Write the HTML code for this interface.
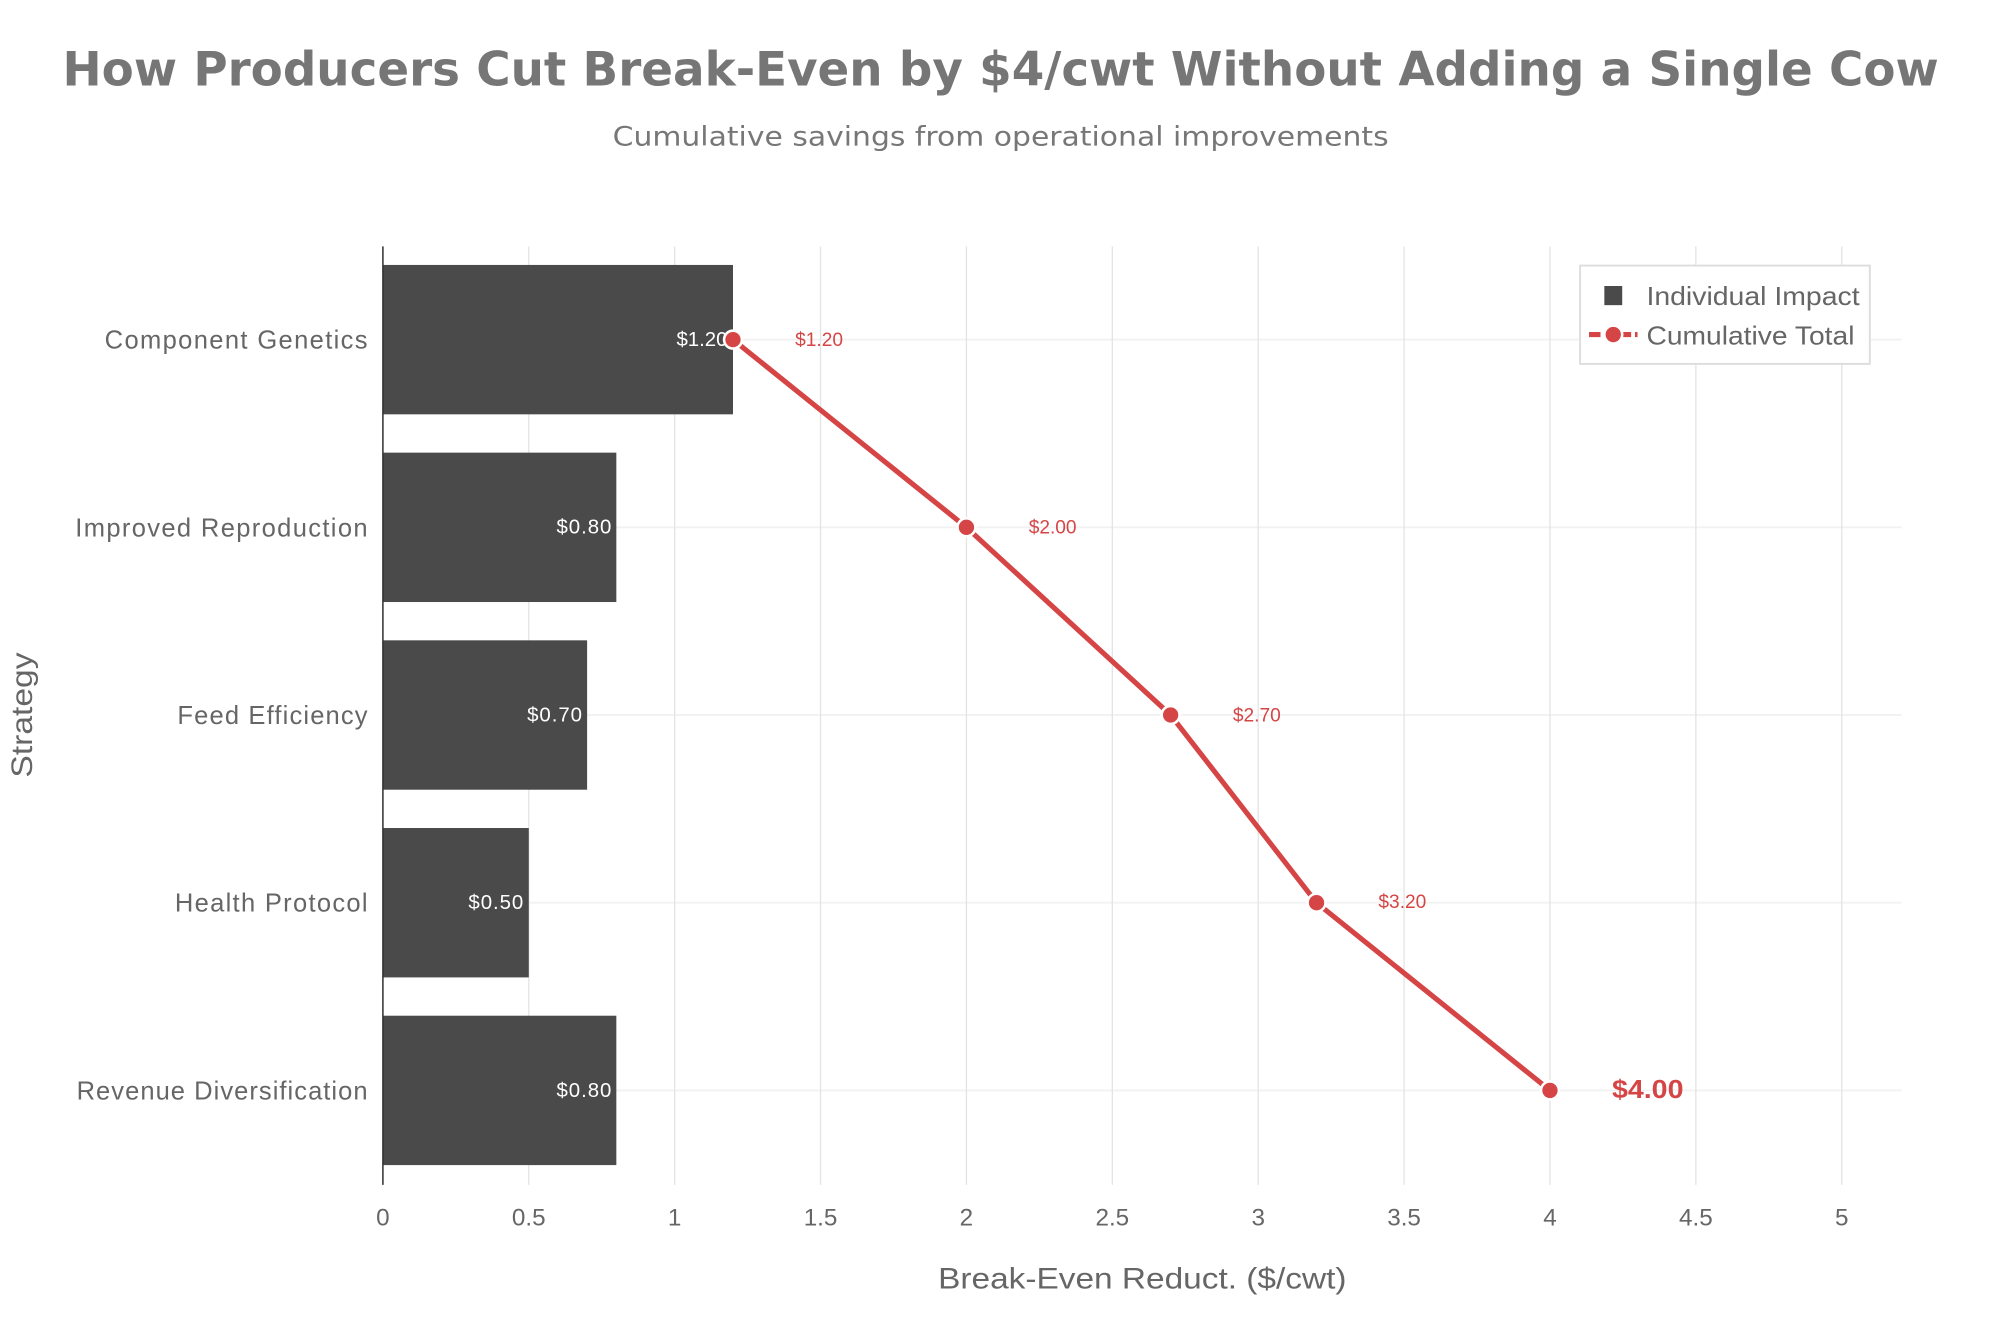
<!DOCTYPE html>
<html><head><meta charset="utf-8"><style>html,body{margin:0;padding:0;background:#fff}svg{display:block}</style></head>
<body>
<svg width="2000" height="1333" viewBox="0 0 1567 1044" preserveAspectRatio="none" xmlns="http://www.w3.org/2000/svg" font-family="Liberation Sans, DejaVu Sans, sans-serif">
<rect width="1567" height="1044" fill="#fff"/>
<text x="784" y="67" text-anchor="middle" font-size="37" font-weight="bold" fill="#767676" font-family="DejaVu Sans, sans-serif" textLength="1470" lengthAdjust="spacingAndGlyphs">How Producers Cut Break-Even by $4/cwt Without Adding a Single Cow</text>
<text x="784" y="114" text-anchor="middle" font-size="21" fill="#777" font-family="DejaVu Sans, sans-serif" textLength="608" lengthAdjust="spacingAndGlyphs">Cumulative savings from operational improvements</text>
<g stroke="#f2f2f2" stroke-width="1.5">
<line x1="300" x2="1490" y1="266" y2="266"/><line x1="300" x2="1490" y1="413" y2="413"/><line x1="300" x2="1490" y1="560" y2="560"/><line x1="300" x2="1490" y1="707" y2="707"/><line x1="300" x2="1490" y1="854" y2="854"/>
</g>
<g stroke="#e3e3e3" stroke-width="1">
<line x1="414.3" x2="414.3" y1="193" y2="928"/><line x1="528.6" x2="528.6" y1="193" y2="928"/><line x1="642.9" x2="642.9" y1="193" y2="928"/><line x1="757.2" x2="757.2" y1="193" y2="928"/><line x1="871.5" x2="871.5" y1="193" y2="928"/><line x1="985.8" x2="985.8" y1="193" y2="928"/><line x1="1100.1" x2="1100.1" y1="193" y2="928"/><line x1="1214.4" x2="1214.4" y1="193" y2="928"/><line x1="1328.7" x2="1328.7" y1="193" y2="928"/><line x1="1443" x2="1443" y1="193" y2="928"/>
</g>
<g fill="#4a4a4a">
<rect x="300" y="207.5" width="274.3" height="117"/>
<rect x="300" y="354.5" width="182.9" height="117"/>
<rect x="300" y="501.5" width="160" height="117"/>
<rect x="300" y="648.5" width="114.3" height="117"/>
<rect x="300" y="795.5" width="182.9" height="117"/>
</g>
<line x1="300" x2="300" y1="193" y2="928" stroke="#333" stroke-width="1.2"/>
<g fill="#fff" font-size="16" text-anchor="end" lengthAdjust="spacingAndGlyphs">
<text x="570" y="271" textLength="40">$1.20</text><text x="479" y="418" textLength="43">$0.80</text><text x="456" y="565" textLength="43">$0.70</text><text x="410" y="712" textLength="43">$0.50</text><text x="479" y="859" textLength="43">$0.80</text>
</g>
<polyline points="574.3,266 757.2,413 917.2,560 1031.5,707 1214.4,854" fill="none" stroke="#d64545" stroke-width="4" stroke-linejoin="round"/>
<g fill="#d64545" stroke="#fff" stroke-width="2">
<circle cx="574.3" cy="266" r="7"/><circle cx="757.2" cy="413" r="7"/><circle cx="917.2" cy="560" r="7"/><circle cx="1031.5" cy="707" r="7"/><circle cx="1214.4" cy="854" r="7"/>
</g>
<g fill="#d64545" font-size="15">
<text x="623" y="271">$1.20</text><text x="806" y="418">$2.00</text><text x="966" y="565">$2.70</text><text x="1080" y="711">$3.20</text>
<text x="1263" y="860" font-size="20" font-weight="bold" textLength="56" lengthAdjust="spacingAndGlyphs">$4.00</text>
</g>
<g fill="#666" font-size="20" text-anchor="end" lengthAdjust="spacingAndGlyphs">
<text x="288" y="273" textLength="206">Component Genetics</text><text x="288" y="420" textLength="229">Improved Reproduction</text><text x="288" y="567" textLength="149">Feed Efficiency</text><text x="288" y="714" textLength="151">Health Protocol</text><text x="288" y="861" textLength="228">Revenue Diversification</text>
</g>
<g fill="#666" font-size="19" text-anchor="middle">
<text x="300" y="960">0</text><text x="414.3" y="960">0.5</text><text x="528.6" y="960">1</text><text x="642.9" y="960">1.5</text><text x="757.2" y="960">2</text><text x="871.5" y="960">2.5</text><text x="985.8" y="960">3</text><text x="1100.1" y="960">3.5</text><text x="1214.4" y="960">4</text><text x="1328.7" y="960">4.5</text><text x="1443" y="960">5</text>
</g>
<text x="895" y="1009" text-anchor="middle" font-size="23" fill="#666" textLength="320" lengthAdjust="spacingAndGlyphs">Break-Even Reduct. ($/cwt)</text>
<text transform="translate(25,560) rotate(-90)" text-anchor="middle" font-size="23" fill="#666" textLength="98" lengthAdjust="spacingAndGlyphs">Strategy</text>
<rect x="1238" y="208" width="227" height="77" fill="#fff" stroke="#ddd" stroke-width="1.5"/>
<rect x="1257" y="224" width="14" height="15" fill="#4a4a4a"/>
<text x="1290" y="239" font-size="20" fill="#666" textLength="167" lengthAdjust="spacingAndGlyphs">Individual Impact</text>
<line x1="1245" x2="1283" y1="262" y2="262" stroke="#d64545" stroke-width="4" stroke-dasharray="9,3"/>
<circle cx="1264" cy="262" r="7" fill="#d64545" stroke="#fff" stroke-width="2"/>
<text x="1290" y="270" font-size="20" fill="#666" textLength="163" lengthAdjust="spacingAndGlyphs">Cumulative Total</text>
</svg>
</body></html>
